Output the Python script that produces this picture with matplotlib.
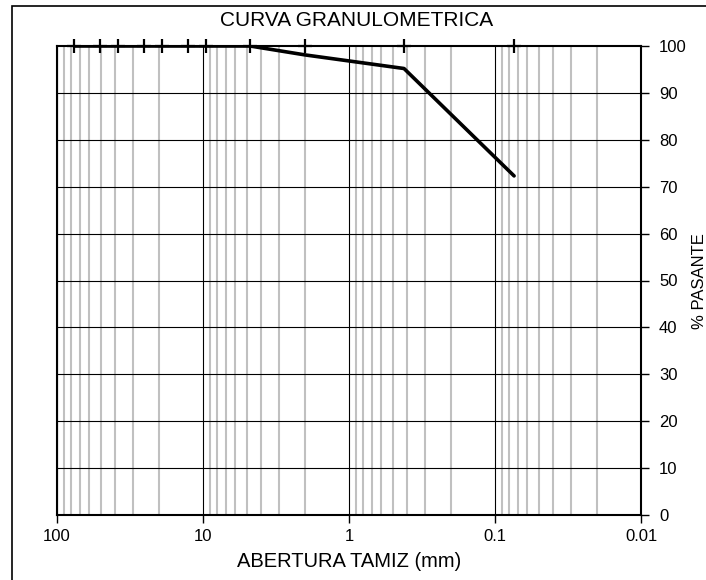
import matplotlib
matplotlib.use("Agg")
import matplotlib.pyplot as plt
from matplotlib.patches import Rectangle
from matplotlib.ticker import FixedLocator, NullFormatter

plt.rcParams['font.family'] = ['Liberation Sans', 'DejaVu Sans']

# tamices (mm) y porcentaje que pasa
abertura = [76.2, 50.8, 38.1, 25.4, 19.05, 12.7, 9.525, 4.76, 2.0, 0.42, 0.074]
pasante = [100, 100, 100, 100, 100, 100, 100, 100, 98.1, 95.2, 72.3]

x_ticks = [100, 10, 1, 0.1, 0.01]
x_labels = ["100", "10", "1", "0.1", "0.01"]
y_ticks = list(range(0, 101, 10))

fig = plt.figure(figsize=(7.06, 5.80), dpi=100)
ax = fig.add_axes([57 / 706, 1 - 515 / 580, (641 - 57) / 706, (515 - 46) / 580])

# rejilla menor (gris) y mayor (negra)
minor = [m * 10.0 ** e for e in range(-2, 2) for m in range(2, 10)]
for v in minor:
    ax.axvline(v, color="#c0c0c0", lw=1.5, zorder=1)
for v in x_ticks:
    ax.axvline(v, color="black", lw=0.8, zorder=2)
for v in y_ticks[1:-1]:
    ax.axhline(v, color="black", lw=0.8, zorder=2)

ax.plot(abertura, pasante, color="black", lw=2.6, zorder=4, solid_capstyle="round")
ax.plot(abertura, [100] * len(abertura), ls="none", marker="+", ms=10, mew=1.6,
        color="black", zorder=5, clip_on=False)

ax.set_xscale("log")
ax.set_xlim(100, 0.01)
ax.set_ylim(0, 100)
ax.xaxis.set_major_locator(FixedLocator(x_ticks))
ax.set_xticklabels(x_labels)
ax.xaxis.set_minor_locator(FixedLocator([]))
ax.xaxis.set_minor_formatter(NullFormatter())
ax.set_yticks(y_ticks)
ax.yaxis.tick_right()
ax.tick_params(axis="both", direction="out", length=6, width=1, labelsize=12)
ax.tick_params(axis="y", pad=7)
ax.tick_params(axis="x", pad=4)
for s in ax.spines.values():
    s.set_linewidth(1.5)
    s.set_zorder(6)

ax.set_xlabel("ABERTURA TAMIZ (mm)", fontsize=14.5, labelpad=6)
fig.text(357 / 706, 1 - 20 / 580, "CURVA GRANULOMETRICA", fontsize=15,
         ha="center", va="center")
fig.text(692 / 706, 1 - 281 / 580, "% PASANTE", rotation=90, fontsize=12,
         ha="left", va="center")

fig.patches.append(Rectangle((11.5 / 706, -0.05), 1.1, 1.05 - 6 / 580,
                             transform=fig.transFigure, fill=False,
                             edgecolor="black", lw=1.2))

fig.savefig("out.png", dpi=100)
